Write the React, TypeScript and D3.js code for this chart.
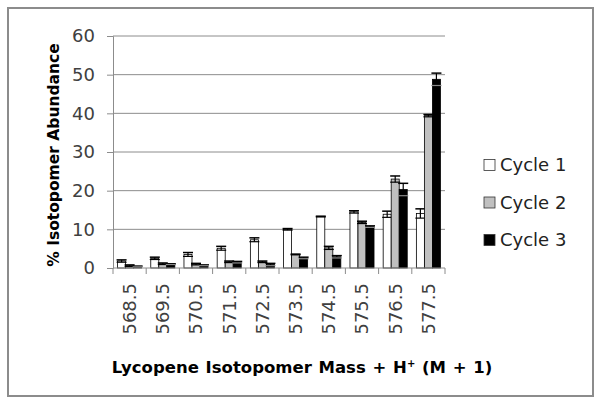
import React, { useEffect, useRef } from 'react';
import * as d3 from 'd3';

const masses = ['568.5', '569.5', '570.5', '571.5', '572.5', '573.5', '574.5', '575.5', '576.5', '577.5'];
const seriesNames = ['Cycle 1', 'Cycle 2', 'Cycle 3'];
const cycle1 = [1.8, 2.5, 3.5, 5.1, 7.3, 10.0, 13.3, 14.5, 13.9, 14.1];
const cycle1Err = [0.3, 0.3, 0.5, 0.5, 0.5, 0.2, 0.1, 0.3, 0.8, 1.2];
const cycle2 = [0.6, 1.1, 1.0, 1.6, 1.6, 3.5, 5.2, 11.8, 23.0, 39.4];
const cycle2Err = [0.2, 0.2, 0.2, 0.2, 0.2, 0.1, 0.4, 0.3, 0.8, 0.3];
const cycle3 = [0.4, 1.0, 0.7, 1.5, 0.9, 2.6, 2.9, 10.7, 20.3, 48.8];
const cycle3Err = [0.1, 0.1, 0.1, 0.2, 0.3, 0.2, 0.3, 0.2, 1.6, 1.6];
const yTicks = [0, 10, 20, 30, 40, 50, 60];

const fills = ['#ffffff', '#c0c0c0', '#000000'];

const App = () => {
    const ref = useRef(null);

    useEffect(() => {
        const svg = d3.select(ref.current);
        svg.selectAll('*').remove();

        const left = 113, right = 445, top = 36, bottom = 268;
        const font = 'DejaVu Sans, Verdana, sans-serif';

        // outer frame
        svg.append('rect')
            .attr('x', 8).attr('y', 8).attr('width', 585).attr('height', 388)
            .attr('fill', 'white').attr('stroke', '#8c8c8c').attr('stroke-width', 2);

        const x = d3.scaleBand().domain(masses).range([left, right]);
        const y = d3.scaleLinear().domain([0, 60]).range([bottom, top]);
        const inner = d3.scaleBand().domain(seriesNames)
            .range([0, x.bandwidth()]).paddingOuter(0.57).paddingInner(0);

        // gridlines
        svg.append('g').selectAll('line').data(yTicks.filter(t => t > 0)).enter().append('line')
            .attr('x1', left).attr('x2', right)
            .attr('y1', d => y(d)).attr('y2', d => y(d))
            .attr('stroke', '#8c8c8c').attr('stroke-width', 1);

        const yAxis = svg.append('g')
            .attr('transform', `translate(${left},0)`)
            .call(d3.axisLeft(y).tickValues(yTicks).tickSize(6).tickPadding(12));
        yAxis.select('.domain').attr('stroke', '#8c8c8c');
        yAxis.selectAll('.tick line').attr('stroke', '#8c8c8c');
        yAxis.selectAll('text').attr('font-size', 18).attr('font-family', font).attr('fill', '#404040');

        const series = [
            { name: seriesNames[0], vals: cycle1, errs: cycle1Err },
            { name: seriesNames[1], vals: cycle2, errs: cycle2Err },
            { name: seriesNames[2], vals: cycle3, errs: cycle3Err },
        ];

        series.forEach((s, i) => {
            const g = svg.append('g');
            const data = masses.map((m, j) => ({ m, v: s.vals[j], e: s.errs[j] }));
            g.selectAll('rect').data(data).enter().append('rect')
                .attr('x', d => x(d.m) + inner(s.name))
                .attr('y', d => y(d.v))
                .attr('width', inner.bandwidth())
                .attr('height', d => bottom - y(d.v))
                .attr('fill', fills[i]).attr('stroke', '#000').attr('stroke-width', 0.8);
            const cx = d => x(d.m) + inner(s.name) + inner.bandwidth() / 2;
            const hw = inner.bandwidth() / 2 + 1;
            g.selectAll('.eb').data(data).enter().append('line')
                .attr('x1', cx).attr('x2', cx)
                .attr('y1', d => y(d.v - d.e)).attr('y2', d => y(d.v + d.e))
                .attr('stroke', '#000').attr('stroke-width', 1.2);
            g.selectAll('.ct').data(data).enter().append('line')
                .attr('x1', d => cx(d) - hw).attr('x2', d => cx(d) + hw)
                .attr('y1', d => y(d.v + d.e)).attr('y2', d => y(d.v + d.e))
                .attr('stroke', '#000').attr('stroke-width', 1.5);
            g.selectAll('.cb').data(data).enter().append('line')
                .attr('x1', d => cx(d) - hw).attr('x2', d => cx(d) + hw)
                .attr('y1', d => y(d.v - d.e)).attr('y2', d => y(d.v - d.e))
                .attr('stroke', i === 2 ? '#888' : '#000').attr('stroke-width', 1.2);
        });

        const xAxis = svg.append('g')
            .attr('transform', `translate(0,${bottom})`)
            .call(d3.axisBottom(x).tickSize(0).tickPadding(0));
        xAxis.select('.domain').remove();
        xAxis.append('line').attr('x1', left).attr('x2', right).attr('stroke', '#8c8c8c');
        xAxis.selectAll('.bound').data(d3.range(masses.length + 1)).enter().append('line')
            .attr('x1', d => left + d * x.step()).attr('x2', d => left + d * x.step())
            .attr('y1', 0).attr('y2', 6).attr('stroke', '#8c8c8c');
        xAxis.selectAll('.tick text')
            .attr('transform', 'rotate(-90)')
            .attr('x', -15).attr('y', 0).attr('dy', '0.35em')
            .attr('text-anchor', 'end')
            .attr('font-size', 18).attr('font-family', font).attr('fill', '#404040');

        svg.append('text')
            .attr('transform', `translate(59,${(top + bottom) / 2 + 3}) rotate(-90)`)
            .attr('text-anchor', 'middle')
            .attr('font-size', 15.5).attr('font-weight', 'bold').attr('font-family', font)
            .text('% Isotopomer Abundance');

        const xt = svg.append('text')
            .attr('x', 302).attr('y', 373)
            .attr('text-anchor', 'middle')
            .attr('font-size', 16.5).attr('font-weight', 'bold').attr('font-family', font)
            .attr('word-spacing', 1);
        xt.append('tspan').text('Lycopene Isotopomer Mass + H');
        xt.append('tspan').attr('font-size', 10).attr('dy', -6).text('+');
        xt.append('tspan').attr('dy', 6).text(' (M + 1)');

        const legend = svg.append('g');
        seriesNames.forEach((n, i) => {
            const ly = 165 + i * 37.5;
            legend.append('rect').attr('x', 484).attr('y', ly - 5.5).attr('width', 11).attr('height', 11)
                .attr('fill', fills[i]).attr('stroke', '#333').attr('stroke-width', 0.8);
            legend.append('text').attr('x', 500).attr('y', ly).attr('dy', '0.35em')
                .attr('font-size', 18).attr('font-family', font).attr('fill', '#222')
                .text(n);
        });
    }, []);

    return (
        <div style={{ position: 'absolute', left: 0, top: 0 }}>
            <svg ref={ref} width={602} height={405} />
        </div>
    );
};

export default App;
